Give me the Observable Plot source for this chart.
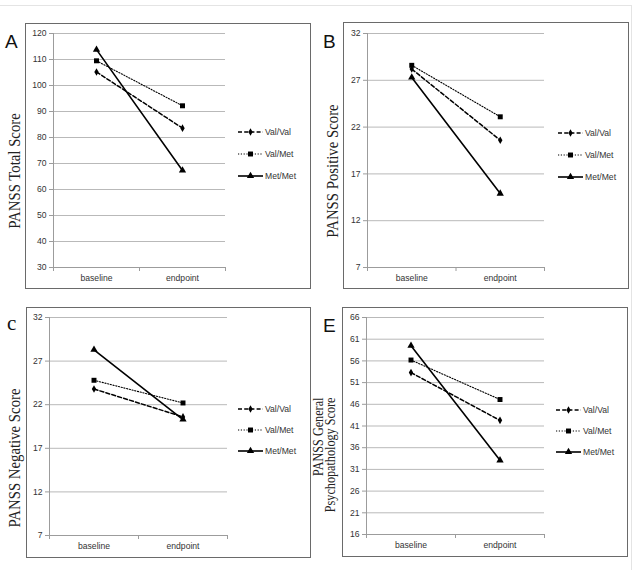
<!DOCTYPE html>
<html>
<head>
<meta charset="utf-8">
<script src="https://cdn.jsdelivr.net/npm/d3@7"></script>
<script src="https://cdn.jsdelivr.net/npm/@observablehq/plot@0.6"></script>
<style>
  body { margin: 0; background: #fff; }
  #page { position: relative; width: 636px; height: 570px; overflow: hidden; }
  .edge { position: absolute; left: -2px; top: 5px; width: 633px; height: 600px;
          border-top: 1px solid #e4e4e4; border-right: 1px solid #e4e4e4; }
  .box { position: absolute; border: 1.5px solid #6a6a6a; box-sizing: border-box; pointer-events: none; }
  .panel { position: absolute; }
  .legend { position: absolute; overflow: visible; }
  #labels { position: absolute; left: 0; top: 0; pointer-events: none; }
</style>
</head>
<body>
<div id="page"><div class="edge"></div></div>
<script>
// Time points on the category axis and COMT genotype groups
const timepoints = ["baseline", "endpoint"];
const genotypes = ["Val/Val", "Val/Met", "Met/Met"];

// Mean PANSS scores per genotype, [baseline, endpoint]
const totalScore    = [[105.2, 83.6], [109.5, 92.2], [113.8, 67.3]];
const positiveScore = [[28.2, 20.6], [28.6, 23.1], [27.3, 14.9]];
const negativeScore = [[23.8, 20.6], [24.8, 22.2], [28.3, 20.3]];
const generalScore  = [[53.3, 42.3], [56.2, 47.1], [59.5, 33.1]];

// Y-axis tick values for each scale
const totalTicks    = [30, 40, 50, 60, 70, 80, 90, 100, 110, 120];
const positiveTicks = [7, 12, 17, 22, 27, 32];
const negativeTicks = [7, 12, 17, 22, 27, 32];
const generalTicks  = [16, 21, 26, 31, 36, 41, 46, 51, 56, 61, 66];

// Line and marker style for each genotype
const seriesStyle = {
  "Val/Val": {dash: "4,2.2", width: 1.5, symbol: "diamond", d3symbol: d3.symbolDiamond, r: 2.3},
  "Val/Met": {dash: "1.2,1.6", width: 1.1, symbol: "square", d3symbol: d3.symbolSquare, r: 2.8},
  "Met/Met": {dash: null, width: 1.6, symbol: "triangle", d3symbol: d3.symbolTriangle, r: 2.7}
};

const tickFont = "'Liberation Sans', Arial, sans-serif";
const titleFont = "'Liberation Serif', 'Times New Roman', serif";
const tickSize = 8.6;

// Panel layout: frame box [left, top, width, height], plot margins [top, right, bottom, left],
// legend offset inside the box [x, y, row gap]
const panels = [
  {letter: "A", letterFont: tickFont, letterSize: 19, letterAt: [5, 48],
   title: ["PANSS Total Score"], titleSize: 17, titleAt: [14, 171],
   values: totalScore, ticks: totalTicks,
   box: [25, 23, 286, 266], margin: [10, 86, 22, 28], legend: [213, 109, 22]},
  {letter: "B", letterFont: tickFont, letterSize: 19, letterAt: [323, 48],
   title: ["PANSS Positive Score"], titleSize: 17, titleAt: [332, 171],
   values: positiveScore, ticks: positiveTicks,
   box: [343, 22, 286, 267], margin: [11, 85, 22, 24], legend: [215, 111, 22]},
  {letter: "c", letterFont: titleFont, letterSize: 21, letterAt: [7, 329.5],
   title: ["PANSS Negative Score"], titleSize: 17, titleAt: [14, 458],
   values: negativeScore, ticks: negativeTicks,
   box: [26, 307, 285, 251], margin: [10, 84, 23, 23], legend: [212, 102, 21]},
  {letter: "E", letterFont: tickFont, letterSize: 19, letterAt: [323, 331.5],
   title: ["PANSS General", "Psychopathology Score"], titleSize: 14, titleAt: [325, 455],
   values: generalScore, ticks: generalTicks,
   box: [342, 307, 286, 250], margin: [10, 84, 23, 24], legend: [214, 103, 21]}
];

const page = document.getElementById("page");

function drawPanel(p) {
  const rows = [];
  genotypes.forEach((g, gi) => timepoints.forEach((t, ti) =>
    rows.push({genotype: g, timepoint: t, slot: ti + 0.5, score: p.values[gi][ti]})));
  const [left, top, w, h] = p.box;
  const [mt, mr, mb, ml] = p.margin;
  const yMin = d3.min(p.ticks), yMax = d3.max(p.ticks);

  const marks = [
    Plot.ruleY(p.ticks, {stroke: "#b9b9b9", strokeWidth: 1}),
    Plot.ruleY([yMin], {stroke: "#9c9c9c"}),
    Plot.ruleX([0], {stroke: "#9c9c9c"}),
    Plot.axisY(p.ticks, {tickSize: 4, tickPadding: 3, stroke: "#9c9c9c", fill: "#333",
      fontSize: tickSize, label: null, tickFormat: d => String(d)}),
    Plot.axisX(d3.range(timepoints.length + 1), {tickSize: 4, stroke: "#9c9c9c",
      tickFormat: () => "", label: null}),
    Plot.axisX(timepoints.map((t, i) => i + 0.5), {tickSize: 0, tickPadding: 7, fill: "#333",
      fontSize: tickSize, label: null, tickFormat: d => timepoints[Math.floor(d)]})
  ];
  for (const g of genotypes) {
    const s = seriesStyle[g];
    const data = rows.filter(d => d.genotype === g);
    marks.push(Plot.line(data, {x: "slot", y: "score", stroke: "#000", strokeWidth: s.width,
      strokeDasharray: s.dash ?? undefined}));
    marks.push(Plot.dot(data, {x: "slot", y: "score", symbol: s.symbol, r: s.r, fill: "#000", stroke: "none"}));
  }

  const chart = Plot.plot({
    width: w, height: h,
    marginTop: mt, marginRight: mr, marginBottom: mb, marginLeft: ml,
    x: {domain: [0, timepoints.length]},
    y: {domain: [yMin, yMax]},
    style: {fontFamily: tickFont, background: "transparent", overflow: "visible"},
    marks
  });
  chart.classList.add("panel");
  chart.style.left = left + "px";
  chart.style.top = top + "px";
  page.appendChild(chart);

  const box = document.createElement("div");
  box.className = "box";
  Object.assign(box.style, {left: left + "px", top: top + "px", width: w + "px", height: h + "px"});
  page.appendChild(box);

  // Legend: line sample with marker, then the genotype name
  const [lx, ly, gap] = p.legend;
  const legend = d3.create("svg")
    .attr("class", "legend")
    .attr("width", 80).attr("height", gap * 2 + 16)
    .style("left", (left + lx) + "px").style("top", (top + ly - 8) + "px");
  genotypes.forEach((g, i) => {
    const s = seriesStyle[g];
    const row = legend.append("g").attr("transform", `translate(0,${8 + i * gap})`);
    row.append("line").attr("x1", 0).attr("x2", 25).attr("stroke", "#000")
      .attr("stroke-width", s.width).attr("stroke-dasharray", s.dash);
    row.append("path").attr("d", d3.symbol(s.d3symbol, Math.PI * s.r * s.r)())
      .attr("transform", "translate(12.5,0)").attr("fill", "#000");
    row.append("text").attr("x", 27).attr("dy", "0.32em")
      .attr("font-family", tickFont).attr("font-size", tickSize).attr("fill", "#333").text(g);
  });
  page.appendChild(legend.node());
}

panels.forEach(drawPanel);

// Panel letters and rotated y-axis titles (set slightly condensed)
const labels = d3.create("svg").attr("id", "labels").attr("width", 636).attr("height", 570);
for (const p of panels) {
  labels.append("text").attr("x", p.letterAt[0]).attr("y", p.letterAt[1])
    .attr("font-family", p.letterFont).attr("font-size", p.letterSize).attr("fill", "#111")
    .text(p.letter);
  const [cx, cy] = p.titleAt;
  const t = labels.append("text")
    .attr("transform", `translate(${cx},${cy}) rotate(-90) scale(0.87,1)`)
    .attr("font-family", titleFont).attr("font-size", p.titleSize).attr("fill", "#222");
  if (p.title.length === 1) {
    t.attr("text-anchor", "middle").attr("dy", "0.35em").text(p.title[0]);
  } else {
    t.attr("text-anchor", "end");
    p.title.forEach((line, i) => t.append("tspan").attr("x", 66).attr("y", (i - 0.5) * p.titleSize * 0.92 + 4).text(line));
  }
}
page.appendChild(labels.node());
</script>
</body>
</html>
